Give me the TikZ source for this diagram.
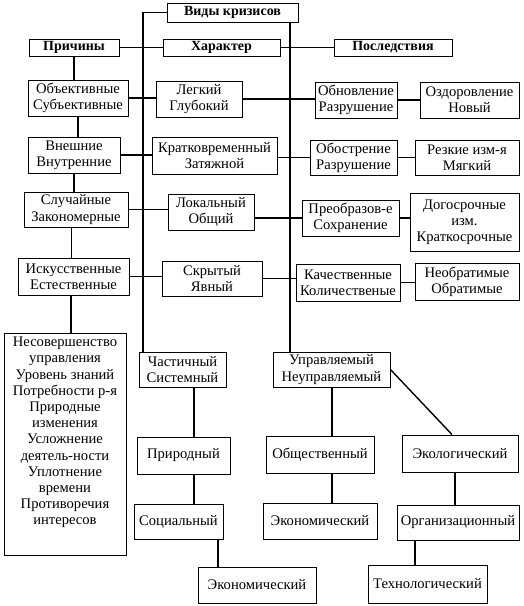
\documentclass[tikz,border=0pt]{standalone}
\usepackage{fontspec}
\setmainfont{Liberation Serif}
\tikzset{
  box/.style={draw, line width=0.9pt, inner sep=0pt, align=center,
    font=\fontsize{14.6}{16.2}\selectfont},
  ttl/.style={box, font=\bfseries\fontsize{14}{15}\selectfont},
  con/.style={line width=1.4pt},
}
\newcommand\bx[7][box]{\node[#1, minimum width={(#5-#3)*1pt}, minimum height={(#6-#4)*1pt}] (#2) at ({(#3+#5)/2},{(#4+#6)/2}) {#7};}
\begin{document}
\begin{tikzpicture}[x=1pt,y=-1pt]
\useasboundingbox[fill=white] (0,0) rectangle (524,606);
% titles
\bx[ttl]{vid}{167}{3}{298}{22}{Виды кризисов}
\bx[ttl]{prich}{29}{39}{119}{56}{Причины}
\bx[ttl]{har}{163}{39}{280}{56}{Характер}
\bx[ttl]{posl}{334}{39}{452}{56}{Последствия}
% rows
\bx{obj}{28}{80}{128}{116}{Объективные\\Субъективные}
\bx{leg}{156}{81}{242}{117}{Легкий\\Глубокий}
\bx{obn}{315}{82}{397}{118}{Обновление\\Разрушение}
\bx{ozd}{420}{82}{519}{118}{Оздоровление\\Новый}
\bx{vn}{28}{137}{120}{173}{Внешние\\Внутренние}
\bx{krat}{152}{137}{277}{174}{Кратковременный\\Затяжной}
\bx{obo}{310}{140}{397}{175}{Обострение\\Разрушение}
\bx{rez}{415}{140}{519}{175}{Резкие изм-я\\Мягкий}
\bx{sl}{24}{192}{128}{227}{Случайные\\Закономерные}
\bx{lok}{168}{194}{254}{230}{Локальный\\Общий}
\bx{preo}{302}{200}{399}{236}{Преобразов-е\\Сохранение}
\bx{dog}{410}{193}{519}{251}{Догосрочные\\изм.\\Краткосрочные}
\bx{isk}{18}{258}{129}{295}{Искусственные\\Естественные}
\bx{skr}{162}{261}{262}{296}{Скрытый\\Явный}
\bx{kach}{296}{264}{400}{301}{Качественные\\Количественые}
\bx{neo}{415}{263}{519}{300}{Необратимые\\Обратимые}
\bx{nes}{4}{333}{126}{555}{Несовершенство\\управления\\Уровень знаний\\Потребности р-я\\Природные\\изменения\\Усложнение\\деятель-ности\\Уплотнение\\времени\\Противоречия\\интересов\rule[-26pt]{0pt}{26pt}}
% lower
\bx{chast}{139}{352}{226}{387}{Частичный\\Системный}
\bx{upr}{273}{352}{390}{387}{Управляемый\\Неуправляемый}
\bx{prir}{137}{437}{230}{474}{Природный}
\bx{soc}{134}{504}{223}{539}{Социальный}
\bx{ekon}{198}{567}{316}{603}{Экономический}
\bx{obsh}{266}{436}{374}{473}{Общественный}
\bx{ekm}{263}{503}{377}{539}{Экономический}
\bx{ekol}{402}{435}{518}{472}{Экологический}
\bx{org}{397}{505}{519}{540}{Организационный}
\bx{tech}{368}{565}{487}{603}{Технологический}
% spine coordinates
\coordinate (sL) at (143,0);
\coordinate (sR) at (290,0);
\coordinate (c1) at (194,0);
\coordinate (c2) at (218,0);
\coordinate (c3) at (332,0);
\coordinate (c5) at (452,0);
\coordinate (c6) at (455,0);
\coordinate (c7) at (415,0);
% spines
\draw[con] (vid.west) -| (sL |- chast.north);
\draw[con] (sR |- vid.south) -- (sR |- upr.north);
% title row
\draw[con] (prich.east) -- (har.west);
\draw[con] (har.east) -- (posl.west);
% left column verticals
\draw[con] (prich.south) -- (prich.south |- obj.north);
\draw[con] (obj.south) -- (obj.south |- vn.north);
\draw[con] (vn.south) -- (vn.south |- sl.north);
\draw[con] ([xshift=-2pt]isk.north |- sl.south) -- ([xshift=-2pt]isk.north);
\draw[con] ([xshift=-2.5pt]isk.south) -- ([xshift=-2.5pt]isk.south |- nes.north);
% rows
\draw[con] (obj.east) -- (obj.east -| leg.west);
\draw[con] (leg.east) -- (leg.east -| obn.west);
\draw[con] (obn.east) -- (obn.east -| ozd.west);
\draw[con] (vn.east) -- (vn.east -| krat.west);
\draw[con] (krat.east |- obo.west) -- (obo.west);
\draw[con] (obo.east) -- (obo.east -| rez.west);
\draw[con] (sl.east) -- (sl.east -| lok.west);
\draw[con] (lok.east |- preo.west) -- (preo.west);
\draw[con] (preo.east) -- (preo.east -| dog.west);
\draw[con] (isk.east) -- (isk.east -| skr.west);
\draw[con] (skr.east) -- (skr.east -| kach.west);
\draw[con] (kach.east) -- (kach.east -| neo.west);
% lower tree
\draw[con] (c1 |- chast.south) -- (c1 |- prir.north);
\draw[con] (c1 |- prir.south) -- (c1 |- soc.north);
\draw[con] (c2 |- soc.south) -- (c2 |- ekon.north);
\draw[con] (c3 |- upr.south) -- (c3 |- obsh.north);
\draw[con] (c3 |- obsh.south) -- (c3 |- ekm.north);
\draw[con] (upr.east) -- (c5 |- ekol.north);
\draw[con] (c6 |- ekol.south) -- (c6 |- org.north);
\draw[con] (c7 |- org.south) -- (c7 |- tech.north);
\end{tikzpicture}
\end{document}
